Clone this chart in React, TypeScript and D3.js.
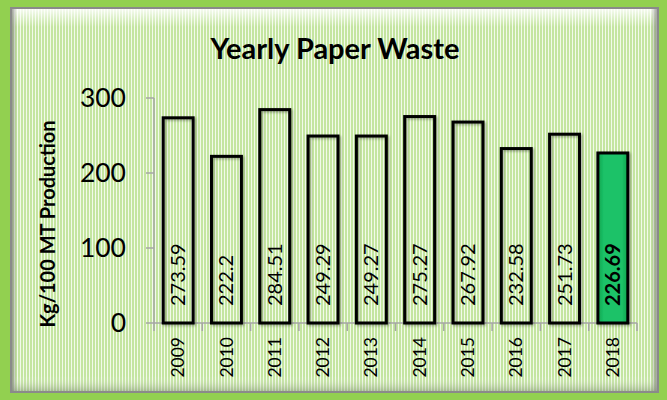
import React from "react";
import * as d3 from "d3";

const years = ["2009", "2010", "2011", "2012", "2013", "2014", "2015", "2016", "2017", "2018"];
const values = [273.59, 222.2, 284.51, 249.29, 249.27, 275.27, 267.92, 232.58, 251.73, 226.69];
const yTicks = [0, 100, 200, 300];
const highlightYear = "2018";
const title = "Yearly Paper Waste";
const yTitle = "Kg/100 MT Production";

const W = 667;
const H = 400;
const FONT = "Lato, 'Open Sans', sans-serif";

export default function App() {
  const x = d3.scaleBand<string>().domain(years).range([154, 637]).paddingInner(0.38).paddingOuter(0.19);
  const y = d3.scaleLinear().domain([0, 300]).range([323, 98]);
  const step = x.step();
  const boundaries = d3.range(years.length + 1).map((i) => 154 + i * step);

  return (
    <svg width={W} height={H} style={{ position: "absolute", left: 0, top: 0 }} xmlns="http://www.w3.org/2000/svg">
      <defs>
        <pattern id="stripes" width="3" height="4" patternUnits="userSpaceOnUse">
          <rect x="0" y="0" width="3" height="4" fill="#f2faea" />
          <rect x="0" y="0" width="2" height="4" fill="#c4e5a0" />
        </pattern>
        <linearGradient id="topGlow" x1="0" y1="0" x2="0" y2="1">
          <stop offset="0" stopColor="#ffffff" stopOpacity="0.85" />
          <stop offset="1" stopColor="#ffffff" stopOpacity="0" />
        </linearGradient>
        <linearGradient id="bottomShade" x1="0" y1="0" x2="0" y2="1">
          <stop offset="0" stopColor="#ffffff" stopOpacity="0" />
          <stop offset="1" stopColor="#7a8a70" stopOpacity="0.45" />
        </linearGradient>
        <linearGradient id="leftShade" x1="0" y1="0" x2="1" y2="0">
          <stop offset="0" stopColor="#808080" stopOpacity="0.7" />
          <stop offset="1" stopColor="#808080" stopOpacity="0" />
        </linearGradient>
        <linearGradient id="rightShade" x1="0" y1="0" x2="1" y2="0">
          <stop offset="0" stopColor="#808080" stopOpacity="0" />
          <stop offset="1" stopColor="#808080" stopOpacity="0.7" />
        </linearGradient>
        <linearGradient id="greenBar" x1="0" y1="0" x2="1" y2="0">
          <stop offset="0" stopColor="#0da44e" />
          <stop offset="0.2" stopColor="#1cc268" />
          <stop offset="0.8" stopColor="#1cc268" />
          <stop offset="1" stopColor="#0da44e" />
        </linearGradient>
        <filter id="barShadow" x="-20%" y="-20%" width="140%" height="140%">
          <feDropShadow dx="1.5" dy="1.5" stdDeviation="1" floodColor="#000" floodOpacity="0.3" />
        </filter>
      </defs>

      {/* outer frame */}
      <rect x={0} y={0} width={W} height={H} fill="#92d050" />
      <rect x={10} y={7} width={649} height={386} fill="#8a8a8a" />
      <rect x={12} y={9} width={645} height={382} fill="url(#stripes)" />
      <rect x={12} y={9} width={645} height={18} fill="url(#topGlow)" />
      <rect x={12} y={376} width={645} height={15} fill="url(#bottomShade)" />
      <rect x={12} y={9} width={5} height={382} fill="url(#leftShade)" />
      <rect x={651} y={9} width={6} height={382} fill="url(#rightShade)" />

      {/* title */}
      <text x={335} y={59} textAnchor="middle" fontFamily={FONT} fontWeight="bold" fontSize={29} fill="#000">
        {title}
      </text>

      {/* y title */}
      <text
        transform={`translate(55,${224}) rotate(-90)`}
        textAnchor="middle"
        fontFamily={FONT}
        fontWeight="bold"
        fontSize={20}
        fill="#000"
      >
        {yTitle}
      </text>

      {/* y axis */}
      <line x1={154} x2={154} y1={y(300)} y2={y(0)} stroke="#a6a6a6" strokeWidth={1.5} />
      {yTicks.map((t) => (
        <g key={t}>
          <line x1={146} x2={154} y1={y(t)} y2={y(t)} stroke="#a6a6a6" strokeWidth={1.5} />
          <text x={126} y={y(t)} dy="0.35em" textAnchor="end" fontFamily={FONT} fontSize={26.5} fill="#000">
            {t}
          </text>
        </g>
      ))}

      {/* x axis */}
      <line x1={154} x2={637} y1={y(0)} y2={y(0)} stroke="#a6a6a6" strokeWidth={1.5} />
      {boundaries.map((b, i) => (
        <line key={i} x1={b} x2={b} y1={y(0)} y2={y(0) + 8} stroke="#a6a6a6" strokeWidth={1.5} />
      ))}

      {/* bars */}
      {years.map((yr, i) => {
        const v = values[i];
        const bx = x(yr)!;
        const bw = x.bandwidth();
        const hi = yr === highlightYear;
        return (
          <g key={yr}>
            <rect
              x={bx}
              y={y(v)}
              width={bw}
              height={y(0) - y(v)}
              fill={hi ? "url(#greenBar)" : "none"}
              stroke="#000"
              strokeWidth={3}
              filter="url(#barShadow)"
            />
            <text
              transform={`translate(${bx + bw / 2},${y(0) - 17}) rotate(-90)`}
              dy="0.35em"
              textAnchor="start"
              fontFamily={FONT}
              fontWeight={hi ? "bold" : "normal"}
              fontSize={20}
              fill="#000"
            >
              {v}
            </text>
            <text
              transform={`translate(${bx + bw / 2},${y(0) + 14}) rotate(-90)`}
              dy="0.35em"
              textAnchor="end"
              fontFamily={FONT}
              fontSize={17.5}
              fill="#000"
            >
              {yr}
            </text>
          </g>
        );
      })}
    </svg>
  );
}
